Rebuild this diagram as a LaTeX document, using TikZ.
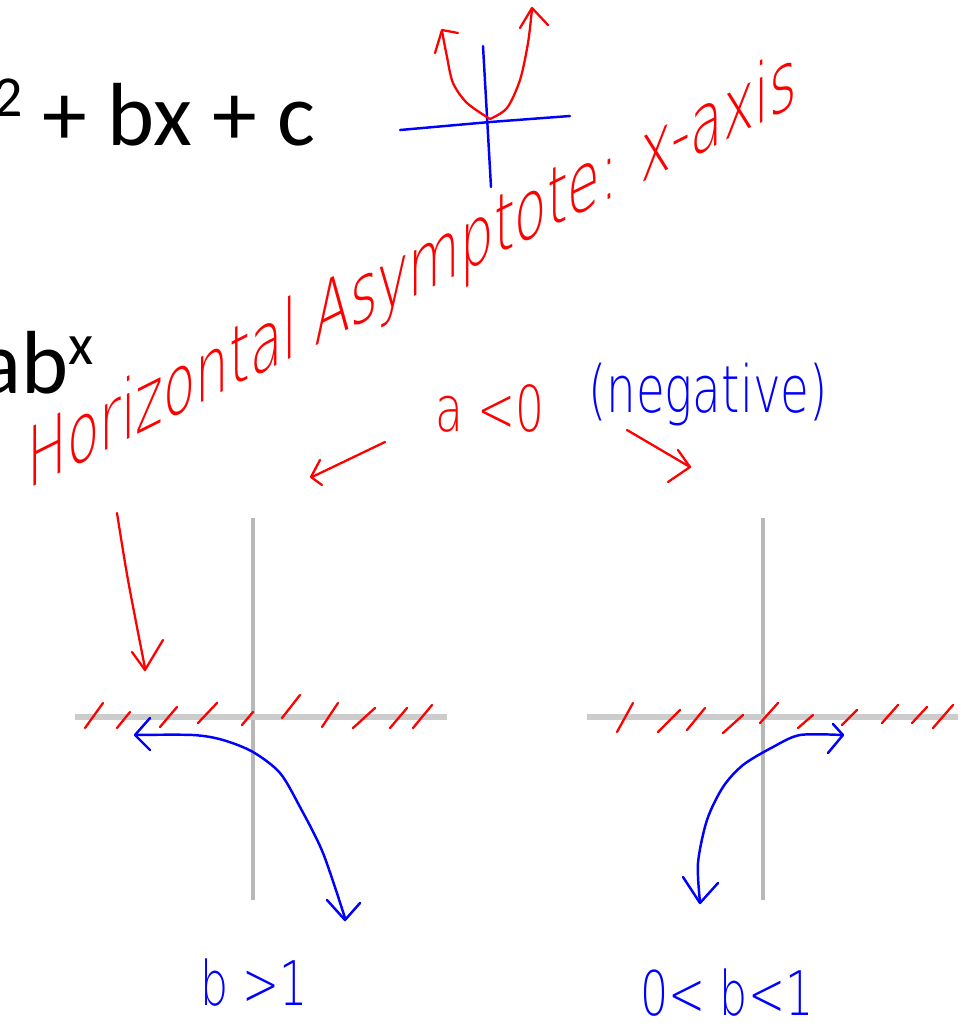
\documentclass[tikz,border=0pt]{standalone}
\usepackage{fontspec}
\setmainfont{Carlito}
\newfontfamily\hand[FakeStretch=0.72]{DejaVuSans-ExtraLight.ttf}
\newfontfamily\handnarrow[FakeStretch=0.64]{DejaVuSans-ExtraLight.ttf}
\begin{document}
\begin{tikzpicture}[x=0.02cm,y=-0.02cm,
  redpen/.style={draw=red, line width=1.3pt, line cap=round, line join=round},
  bluepen/.style={draw=blue, line width=1.4pt, line cap=round, line join=round},
  axish/.style={draw=black!20, line width=3.4pt},
  axisv/.style={draw=black!28, line width=2.2pt},
  handtext/.style={font=\hand, inner sep=0pt}]
\useasboundingbox (0,0) rectangle (971,1029);
\clip (0,0) rectangle (971,1029);
% black printed text
\node[anchor=base west, inner sep=0pt, font=\fontsize{51}{51}\selectfont] (quad) at (-7,145)
  {\raisebox{16pt}{\fontsize{33}{33}\selectfont 2} + bx + c};
\node[anchor=base west, inner sep=0pt, font=\fontsize{51}{51}\selectfont] (expo) at (-22,393)
  {ab\raisebox{16pt}{\fontsize{33}{33}\selectfont x}};
% parabola sketch
\coordinate (pvx) at (490,119);
\draw[bluepen] (400,130) -- (490,122) -- (570,116);
\draw[bluepen] (483,46) -- (491,187);
\draw[redpen] plot[smooth] coordinates {(435,53) (442,30)} -- (458,33);
\draw[redpen] plot[smooth] coordinates {(490,119) (467,103) (453,83) (447,57) (442,31)};
\draw[redpen] plot[smooth] coordinates {(490,119) (507,108) (520,80) (528,43) (532,9)};
\draw[redpen] (520,28) -- (532,8) -- (548,25);
% slanted handwriting
\begin{scope}[shift={(27,490)}, yslant=0.5]
  \node[handtext, red, anchor=base west, transform shape, font=\handnarrow\fontsize{47}{47}\selectfont] (asym) at (0,0)
    {Horizontal Asymptote: x-axis};
\end{scope}
\node[handtext, red, anchor=base, font=\hand\fontsize{36}{36}\selectfont] (aneg) at (490,431) {a <0};
\node[handtext, blue, anchor=base, font=\hand\fontsize{37}{37}\selectfont] (neg) at (708,412) {(negative)};
% red pointer arrows
\draw[redpen] (385,442) -- (312,477);
\draw[redpen] (320,460) -- (311,477) -- (322,485);
\draw[redpen] (627,430) -- (690,467);
\draw[redpen] (678,450) -- (690,467) -- (668,482);
\draw[redpen] plot[smooth] coordinates {(117,513) (128,580) (145,668)};
\draw[redpen] (132,652) -- (145,670) -- (163,640);
% left graph
\draw[axisv] (253,518) -- (253,900);
\draw[axish] (75,717) -- (447,717);
\foreach \a/\b/\c/\d in {85/728/103/703, 117/728/130/712, 160/727/177/707, 198/723/217/703, 242/725/253/712,
  282/718/300/695, 322/727/338/703, 353/728/375/708, 390/728/407/708, 413/728/432/705}
  \draw[redpen] (\a,\b) -- (\c,\d);
\draw[bluepen] plot[smooth] coordinates {(136,735) (193,735) (223,740) (253,752) (280,773) (300,807) (323,853) (345,918)};
\draw[bluepen] (150,718) -- (135,735) -- (150,750);
\draw[bluepen] (327,900) -- (345,920) -- (360,903);
% right graph
\draw[axisv] (763,518) -- (763,900);
\draw[axish] (587,717) -- (958,717);
\foreach \a/\b/\c/\d in {617/732/633/703, 658/732/680/710, 687/730/705/708, 723/733/743/715, 760/723/778/703,
  798/728/813/715, 842/725/857/710, 882/723/898/705, 912/723/927/707, 933/728/953/705}
  \draw[redpen] (\a,\b) -- (\c,\d);
\draw[bluepen] plot[smooth] coordinates {(700,902) (698,863) (707,820) (723,787) (743,765) (773,747) (800,735) (842,735)};
\draw[bluepen] (833,724) -- (843,735) -- (828,753);
\draw[bluepen] (683,877) -- (700,903) -- (718,883);
% blue labels
\node[handtext, blue, anchor=base, font=\hand\fontsize{35}{35}\selectfont] (bgt) at (254,1005) {b >1};
\node[handtext, blue, anchor=base, font=\hand\fontsize{35}{35}\selectfont] (blt) at (727,1015) {0< b<1};
\end{tikzpicture}
\end{document}
